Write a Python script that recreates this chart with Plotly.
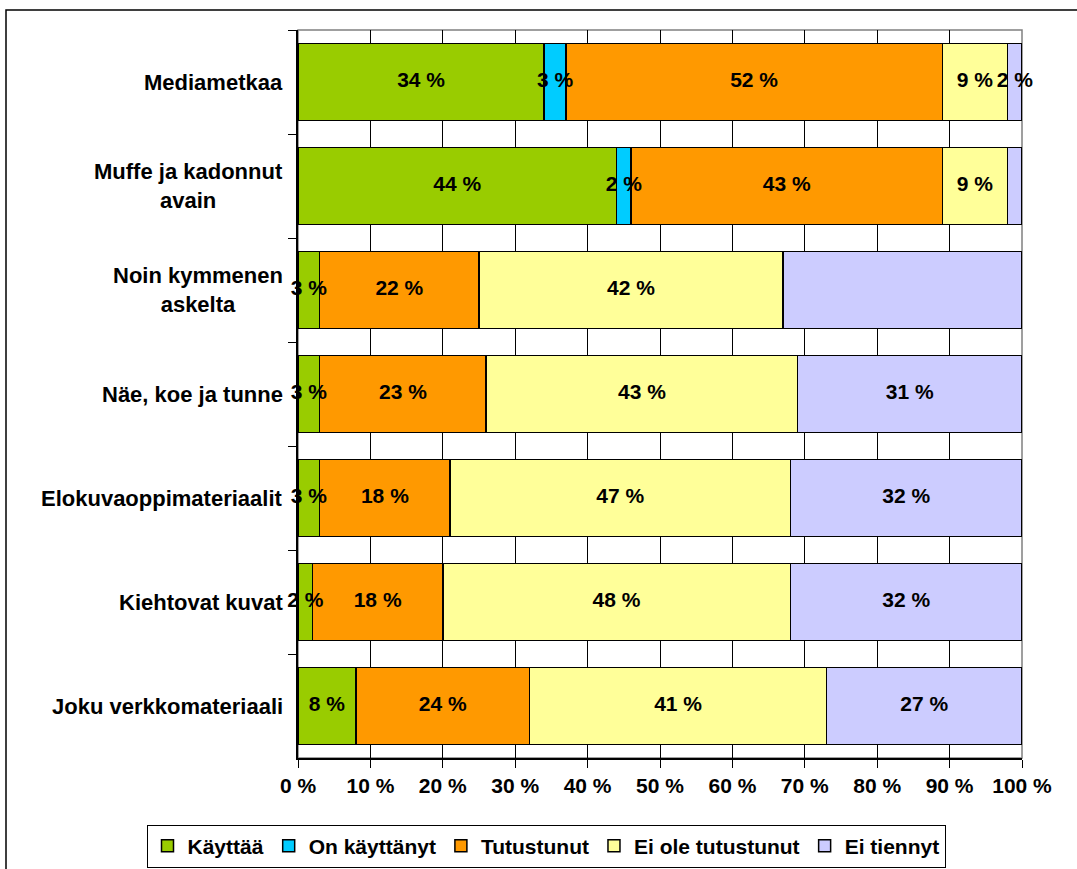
import plotly.graph_objects as go

categories = ["Mediametkaa", "Muffe ja kadonnut avain", "Noin kymmenen askelta",
              "Näe, koe ja tunne", "Elokuvaoppimateriaalit", "Kiehtovat kuvat",
              "Joku verkkomateriaali"]
category_labels = ["Mediametkaa", "Muffe ja kadonnut<br>avain", "Noin kymmenen<br>askelta",
                   "Näe, koe ja tunne", "Elokuvaoppimateriaalit", "Kiehtovat kuvat",
                   "Joku verkkomateriaali"]
series_names = ["Käyttää", "On käyttänyt", "Tutustunut", "Ei ole tutustunut", "Ei tiennyt"]
kayttaa = [34, 44, 3, 3, 3, 2, 8]
on_kayttanyt = [3, 2, 0, 0, 0, 0, 0]
tutustunut = [52, 43, 22, 23, 18, 18, 24]
ei_ole = [9, 9, 42, 43, 47, 48, 41]
ei_tiennyt = [2, 2, 33, 31, 32, 32, 27]
# labels not shown in the original (series index, category index)
hidden_labels = [(4, 1), (4, 2)]
colors = ["#99CC00", "#00CCFF", "#FF9900", "#FFFF99", "#CCCCFF"]
x_ticks = [0, 10, 20, 30, 40, 50, 60, 70, 80, 90, 100]

W, H = 1077, 869
x0, x1 = 298 / W, 1022 / W
y0, y1 = (H - 758) / H, (H - 30) / H
FONT = "Liberation Sans"
FS = 21

fig = go.Figure()
all_series = [kayttaa, on_kayttanyt, tutustunut, ei_ole, ei_tiennyt]
for name, vals, col in zip(series_names, all_series, colors):
    fig.add_trace(go.Bar(
        y=categories, x=vals, name=f"<b>{name}</b>", orientation="h",
        marker=dict(color=col, line=dict(color="black", width=1.5)),
        hoverinfo="skip",
    ))

# value labels drawn on top of all bars (centered on each segment)
lab_x, lab_y, lab_t = [], [], []
cum = [0] * len(categories)
for si, vals in enumerate(all_series):
    for ci, v in enumerate(vals):
        if v > 0 and (si, ci) not in hidden_labels:
            lab_x.append(cum[ci] + v / 2)
            lab_y.append(categories[ci])
            lab_t.append(f"<b>{v} %</b>")
        cum[ci] += v
fig.add_trace(go.Scatter(
    x=lab_x, y=lab_y, text=lab_t, mode="text", textposition="middle center",
    textfont=dict(family=FONT, size=FS, color="black"),
    showlegend=False, cliponaxis=False, hoverinfo="skip",
))

fig.update_layout(
    barmode="stack", bargap=0.26,
    width=W, height=H,
    margin=dict(l=0, r=0, t=0, b=0, pad=0, autoexpand=False),
    paper_bgcolor="white", plot_bgcolor="white",
    font=dict(family=FONT, size=FS, color="black"),
    legend=dict(orientation="h", x=(157 + 935) / 2 / W, xanchor="center",
                y=(H - 846) / H, yanchor="middle",
                traceorder="normal",
                bordercolor="black", borderwidth=1, bgcolor="white",
                font=dict(family=FONT, size=FS, color="black"),
                itemwidth=30, tracegroupgap=0),
    xaxis=dict(domain=[x0, x1], range=[0, 100], tickvals=x_ticks,
               ticktext=[f"<b>{t} %</b>" for t in x_ticks],
               showgrid=True, gridcolor="black", gridwidth=1,
               showline=True, linecolor="black", linewidth=1.5,
               ticks="outside", ticklen=8, tickcolor="black", zeroline=False,
               automargin=False,
               tickfont=dict(size=FS, color="black")),
    yaxis=dict(domain=[y0, y1], autorange="reversed", type="category",
               tickson="boundaries", ticks="outside", ticklen=8, tickcolor="black",
               showticklabels=False, showgrid=False, automargin=False,
               showline=True, linecolor="black", linewidth=1.5),
)

# category labels, centered multi-line
for cat, lab in zip(categories, category_labels):
    fig.add_annotation(x=x0 - 13 / W, xref="paper", xanchor="right", y=cat, yref="y",
                       text=f"<b>{lab}</b>", showarrow=False, align="center",
                       font=dict(family=FONT, size=22, color="black"))

# grey plot border (top/right)
fig.add_shape(type="rect", xref="paper", yref="paper", x0=x0, x1=x1, y0=y0, y1=y1,
              line=dict(color="#808080", width=1.5), layer="below")
# outer chart frame
fig.add_shape(type="path", xref="paper", yref="paper",
              path=f"M {6/W} 0 L {6/W} {1-10/H} L 1 {1-10/H}",
              line=dict(color="black", width=1.5))

fig.write_html("out.html", config={"displayModeBar": False},
               post_script="document.body.style.margin='0';document.body.style.overflow='hidden';")
